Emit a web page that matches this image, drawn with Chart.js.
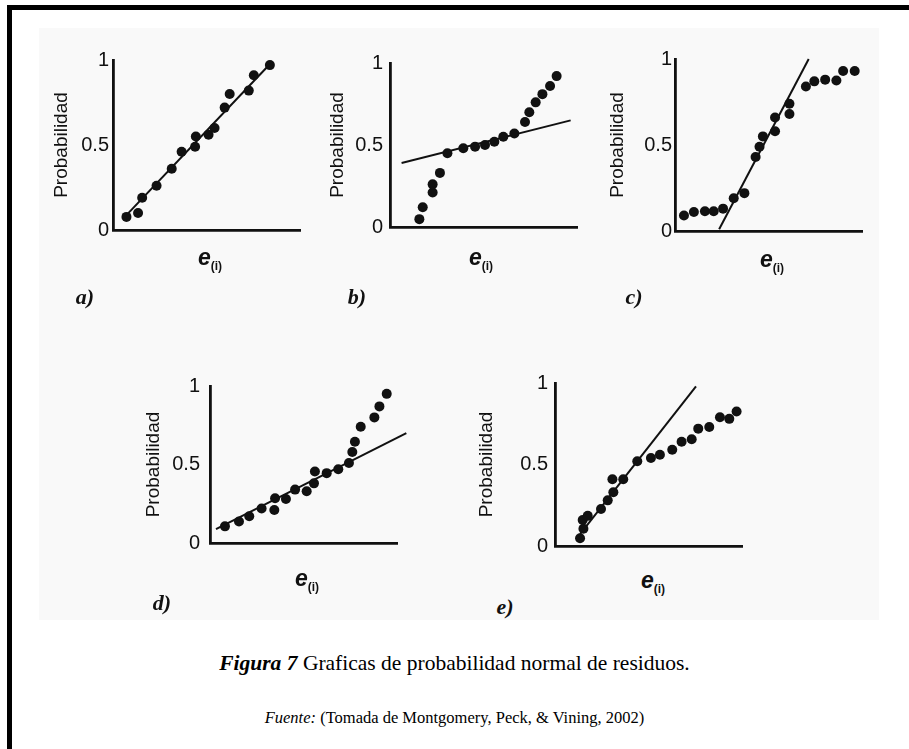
<!DOCTYPE html>
<html>
<head>
<meta charset="utf-8">
<script src="https://cdn.jsdelivr.net/npm/chart.js@4.4.1/dist/chart.umd.min.js"></script>
<style>
  body { margin: 0; width: 909px; height: 749px; background: #fff; position: relative; overflow: hidden; }
  #frame { position: absolute; left: 7px; top: 5px; width: 940px; height: 780px; border-top: 5px solid #000; border-left: 5px solid #000; }
  #scan { position: absolute; left: 39px; top: 28px; width: 840px; height: 592px; background: #f9f9f9; }
  canvas { position: absolute; }
  .xt { position: absolute; transform: translate(-50%, -50%); font-family: "Liberation Sans", Arial, sans-serif; font-style: italic; font-weight: bold; font-size: 23px; color: #111; white-space: nowrap; }
  .xt sub { font-style: normal; font-weight: bold; font-size: 12px; vertical-align: -5px; }
  .lt { position: absolute; transform: translate(-50%, -50%); font-family: "Liberation Serif", "Times New Roman", serif; font-style: italic; font-weight: bold; font-size: 22px; color: #111; }
  .cap { position: absolute; left: 0; width: 909px; text-align: center; font-family: "Liberation Serif", "Times New Roman", serif; color: #000; white-space: nowrap; }
</style>
</head>
<body>
<div id="scan"></div>
<div id="frame"></div>

<canvas id="pa"></canvas>
<canvas id="pb"></canvas>
<canvas id="pc"></canvas>
<canvas id="pd"></canvas>
<canvas id="pe"></canvas>

<div class="cap" style="top:651px;font-size:21.5px;"><b><i>Figura 7</i></b> Graficas de probabilidad normal de residuos.</div>
<div class="cap" style="top:708px;font-size:16.5px;"><i>Fuente:</i> (Tomada de Montgomery, Peck, &amp; Vining, 2002)</div>

<script>
// y axis ticks shared by all panels
const yTicks = [0, 0.5, 1];
const yTitle = 'Probabilidad';
const panelLetters = ['a)', 'b)', 'c)', 'd)', 'e)'];

// a) residuals fall on the line
const aDotsX = [0.72, 1.34, 1.56, 2.33, 3.14, 3.67, 4.39, 4.43, 5.11, 5.43, 5.97, 6.24, 7.26, 7.53, 8.39];
const aDotsY = [0.077, 0.10, 0.19, 0.26, 0.36, 0.46, 0.49, 0.55, 0.56, 0.60, 0.72, 0.80, 0.82, 0.91, 0.97];
const aFitX = [0.54, 8.51];
const aFitY = [0.067, 0.99];

// b)
const bDotsX = [1.57, 1.75, 2.28, 2.28, 2.67, 3.07, 3.92, 4.55, 5.08, 5.58, 6.06, 6.65, 7.22, 7.45, 7.79, 8.15, 8.56, 8.91];
const bDotsY = [0.048, 0.12, 0.21, 0.26, 0.33, 0.45, 0.48, 0.49, 0.50, 0.52, 0.55, 0.57, 0.64, 0.70, 0.76, 0.81, 0.86, 0.92];
const bFitX = [0.62, 9.66];
const bFitY = [0.39, 0.65];

// c)
const cDotsX = [0.48, 1.01, 1.60, 2.07, 2.57, 3.14, 3.71, 4.31, 4.52, 4.70, 5.35, 5.35, 6.12, 6.12, 7.00, 7.45, 8.03, 8.63, 8.99, 9.61];
const cDotsY = [0.09, 0.11, 0.115, 0.115, 0.13, 0.19, 0.22, 0.43, 0.49, 0.55, 0.58, 0.66, 0.68, 0.74, 0.84, 0.87, 0.88, 0.875, 0.93, 0.93];
const cFitX = [2.36, 7.15];
const cFitY = [0.01, 1.0];

// d)
const dDotsX = [0.80, 1.55, 2.10, 2.76, 3.44, 3.48, 4.06, 4.55, 5.17, 5.56, 5.61, 6.24, 6.86, 7.43, 7.61, 7.75, 8.06, 8.79, 9.06, 9.45];
const dDotsY = [0.106, 0.137, 0.17, 0.22, 0.21, 0.285, 0.28, 0.34, 0.33, 0.38, 0.455, 0.445, 0.47, 0.51, 0.58, 0.645, 0.74, 0.80, 0.87, 0.95];
const dFitX = [0.32, 10.5];
const dFitY = [0.089, 0.70];

// e)
const eDotsX = [1.34, 1.52, 1.48, 1.75, 2.46, 2.82, 3.12, 3.07, 3.65, 4.40, 5.13, 5.61, 6.27, 6.77, 7.31, 7.66, 8.25, 8.82, 9.32, 9.71, 10.30];
const eDotsY = [0.048, 0.106, 0.16, 0.185, 0.227, 0.28, 0.33, 0.41, 0.41, 0.52, 0.54, 0.56, 0.59, 0.64, 0.655, 0.72, 0.73, 0.79, 0.78, 0.825, 0.85];
const eFitX = [1.34, 7.54];
const eFitY = [0.073, 0.98];

// panel placement (pixels): ox = y axis, top = value 1, h = plot height
const AXIS_W = 187, Y_W = 85, PAD_T = 14, PAD_R = 40, X_H = 4, PAD_B = 10;
const layouts = [
  { id: 'pa', ox: 113, top: 58, h: 174, tickPad: 5, titleOff: 51, xt: [210, 258], lt: [85, 297] },
  { id: 'pb', ox: 390, top: 58, h: 174, tickPad: 8, titleOff: 52, xt: [481, 258], lt: [357, 297] },
  { id: 'pc', ox: 675, top: 58, h: 174, tickPad: 4, titleOff: 57, xt: [772, 260], lt: [634, 297] },
  { id: 'pd', ox: 210, top: 378, h: 173, tickPad: 11, titleOff: 56, xt: [307, 579], lt: [162, 603] },
  { id: 'pe', ox: 555, top: 378, h: 173, tickPad: 8, titleOff: 68, xt: [653, 581], lt: [505, 607] },
];

const INK = '#111';
const pts = (xs, ys) => xs.map((x, i) => ({ x: x, y: ys[i] }));

function makePanel(lay, dotsX, dotsY, fitX, fitY, letter) {
  const cv = document.getElementById(lay.id);
  cv.width = Y_W + AXIS_W + PAD_R;
  cv.height = PAD_T + lay.h + X_H + PAD_B;
  cv.style.left = (lay.ox - Y_W) + 'px';
  cv.style.top = (lay.top - PAD_T) + 'px';

  const tickFont = { family: 'Liberation Sans', size: 20 };
  const titleFont = { family: 'Liberation Sans', size: 19 };
  new Chart(cv.getContext('2d'), {
    type: 'scatter',
    data: {
      datasets: [
        {
          data: pts(dotsX, dotsY),
          pointRadius: 5,
          pointBackgroundColor: INK,
          pointBorderWidth: 0,
          showLine: false,
          clip: false,
        },
        {
          data: pts(fitX, fitY),
          showLine: true,
          pointRadius: 0,
          borderColor: INK,
          borderWidth: 2,
          clip: false,
        },
      ],
    },
    options: {
      responsive: false,
      animation: false,
      devicePixelRatio: 1,
      layout: { padding: { top: PAD_T, right: PAD_R, bottom: PAD_B, left: 0 } },
      plugins: { legend: { display: false }, tooltip: { enabled: false } },
      scales: {
        x: {
          type: 'linear',
          min: 0,
          max: 10,
          grid: { display: false, drawTicks: false },
          border: { display: true, color: INK, width: 2.8 },
          ticks: { display: false },
          afterFit: (s) => { s.height = X_H; },
        },
        y: {
          type: 'linear',
          min: 0,
          max: 1,
          afterBuildTicks: (s) => { s.ticks = yTicks.map((v) => ({ value: v })); },
          grid: { display: false, drawTicks: false },
          border: { display: true, color: INK, width: 2.8 },
          ticks: { padding: lay.tickPad - 1, color: INK, font: tickFont, callback: (v) => String(v) },
          title: {
            display: true,
            text: yTitle,
            color: INK,
            font: titleFont,
            padding: { top: Y_W - lay.titleOff - 11.4, bottom: 0 },
          },
          afterFit: (s) => { s.width = Y_W; },
        },
      },
    },
  });

  const xt = document.createElement('div');
  xt.className = 'xt';
  xt.innerHTML = 'e<sub>(i)</sub>';
  xt.style.left = lay.xt[0] + 'px';
  xt.style.top = lay.xt[1] + 'px';
  document.body.appendChild(xt);

  const lt = document.createElement('div');
  lt.className = 'lt';
  lt.textContent = letter;
  lt.style.left = lay.lt[0] + 'px';
  lt.style.top = lay.lt[1] + 'px';
  document.body.appendChild(lt);
}

makePanel(layouts[0], aDotsX, aDotsY, aFitX, aFitY, panelLetters[0]);
makePanel(layouts[1], bDotsX, bDotsY, bFitX, bFitY, panelLetters[1]);
makePanel(layouts[2], cDotsX, cDotsY, cFitX, cFitY, panelLetters[2]);
makePanel(layouts[3], dDotsX, dDotsY, dFitX, dFitY, panelLetters[3]);
makePanel(layouts[4], eDotsX, eDotsY, eFitX, eFitY, panelLetters[4]);
</script>
</body>
</html>
